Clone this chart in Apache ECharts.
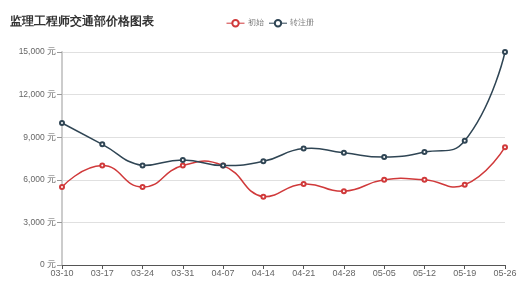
<!DOCTYPE html>
<html><head><meta charset="utf-8">
<script src="https://cdn.jsdelivr.net/npm/echarts@6/dist/echarts.min.js"></script>
<style>html,body{margin:0;padding:0;background:#fff}#c{width:529px;height:299px}</style>
</head><body><div id="c"></div>
<script>
var categories = ['03-10','03-17','03-24','03-31','04-07','04-14','04-21','04-28','05-05','05-12','05-19','05-26'];
var initialValues = [5500,7000,5500,7000,7000,4800,5700,5200,6000,6000,5650,8300];
var transferValues = [10000,8500,7000,7400,7000,7300,8200,7900,7600,7950,8750,15000];
var seriesNames = ['初始','转注册'];
var colors = ['#d0393a','#2f4554'];

// Smooth curve (classic ECharts 4 style) drawn via the library's own coordinate system
function curveSeries(values, color) {
  var SM = 0.5;
  return {
    type:'custom', silent:true, z:1, legendHoverLink:false,
    data: values.map(function(v,i){return [i,v];}),
    renderItem: function(params, api){
      var i = params.dataIndex;
      if (i === 0) return {type:'group', children:[]};
      var pts = values.map(function(v,k){return api.coord([k,v]);});
      var n = pts.length;
      var minX=Infinity,minY=Infinity,maxX=-Infinity,maxY=-Infinity;
      pts.forEach(function(p){minX=Math.min(minX,p[0]);maxX=Math.max(maxX,p[0]);minY=Math.min(minY,p[1]);maxY=Math.max(maxY,p[1]);});
      function ctrl(k){
        var p=pts[k];
        if (k===0 || k===n-1) return {inC:[p[0],p[1]], outC:[p[0],p[1]]};
        var a=pts[k-1], b=pts[k+1];
        var vx=b[0]-a[0], vy=b[1]-a[1];
        var d0=Math.hypot(p[0]-a[0],p[1]-a[1]), d1=Math.hypot(b[0]-p[0],b[1]-p[1]);
        var r=d1/(d0+d1);
        return {inC:[p[0]-vx*SM*(1-r), p[1]-vy*SM*(1-r)], outC:[p[0]+vx*SM*r, p[1]+vy*SM*r]};
      }
      function clamp(c){return [Math.min(Math.max(c[0],minX),maxX), Math.min(Math.max(c[1],minY),maxY)];}
      var c0 = clamp(ctrl(i-1).outC), c1 = clamp(ctrl(i).inC);
      var p0=pts[i-1], p1=pts[i];
      return {type:'bezierCurve', shape:{x1:p0[0],y1:p0[1],x2:p1[0],y2:p1[1],cpx1:c0[0],cpy1:c0[1],cpx2:c1[0],cpy2:c1[1]},
        style:{stroke:color, lineWidth:1.5, fill:'none'}};
    }
  };
}

var chart = echarts.init(document.getElementById('c'));
chart.setOption({
  animation:false,
  color:colors,
  title:{text:'监理工程师交通部价格图表',left:5,top:11,textStyle:{fontSize:12,fontWeight:'bold',color:'#333'}},
  legend:{data:seriesNames,left:221,top:14,itemWidth:18,itemHeight:8,itemGap:5,
    itemStyle:{borderWidth:1},lineStyle:{width:1,opacity:1},
    textStyle:{fontSize:8,color:'#777',padding:[0,0,0,-2]}},
  grid:{left:62,right:24,top:52,bottom:34,containLabel:false},
  xAxis:{type:'category',boundaryGap:false,data:categories,
    axisLine:{lineStyle:{color:'#555'}},
    axisTick:{show:true,alignWithLabel:true,length:4,lineStyle:{color:'#555'}},
    axisLabel:{fontSize:9,color:'#666',margin:4}},
  yAxis:{type:'value',min:0,max:15000,interval:3000,
    axisLine:{show:true,lineStyle:{color:'#ccc',width:2}},
    axisTick:{show:true,length:5,lineStyle:{color:'#999'}},
    splitLine:{lineStyle:{color:'#e0e0e0'}},
    axisLabel:{fontSize:8.5,color:'#666',margin:6,formatter:function(v){return v.toLocaleString('en-US')+' 元';}}},
  series:[
    curveSeries(initialValues, colors[0]),
    curveSeries(transferValues, colors[1]),
    {name:seriesNames[0],type:'line',z:3,data:initialValues,symbol:'emptyCircle',symbolSize:4,itemStyle:{color:colors[0],borderWidth:1},lineStyle:{width:1.5,opacity:0}},
    {name:seriesNames[1],type:'line',z:3,data:transferValues,symbol:'emptyCircle',symbolSize:4,itemStyle:{color:colors[1],borderWidth:1},lineStyle:{width:1.5,opacity:0}}
  ]
});
</script></body></html>
